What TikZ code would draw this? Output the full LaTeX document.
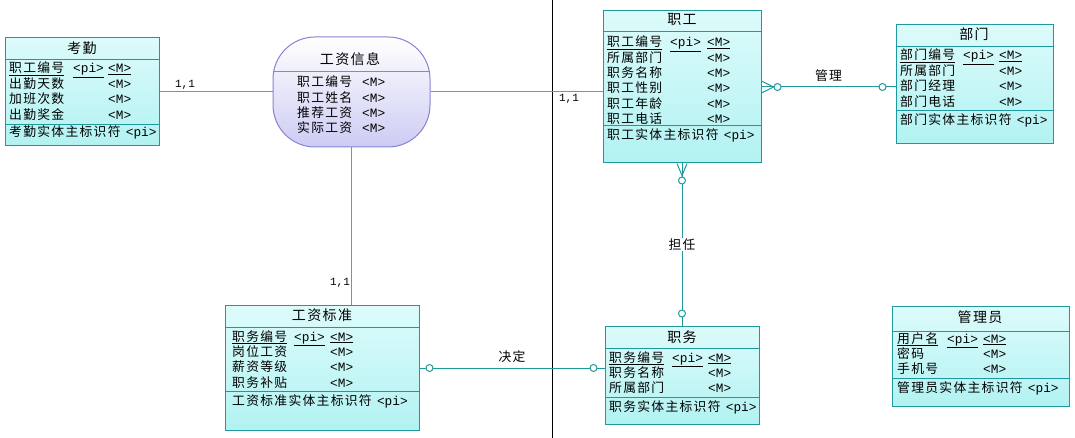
\documentclass[tikz,border=0pt]{standalone}
\usepackage{fontspec}
\setmainfont{Noto Sans CJK SC}[LetterSpace=10]
\setmonofont{Liberation Mono}
\usepackage{xcolor}
\definecolor{entteal}{HTML}{1E9A9E}
\definecolor{entlight}{HTML}{DDFBFB}
\definecolor{entdark}{HTML}{B2F2F2}
\definecolor{assocline}{HTML}{8A82D6}
\definecolor{assoclight}{HTML}{CCCCF4}
\newcommand{\pikey}{\texttt{<pi>}}
\newcommand{\mkey}{\texttt{<M>}}

\begin{document}
\begin{tikzpicture}[x=1pt, y=-1pt,
    ent/.style={rectangle, draw=entteal, line width=1pt, top color=entlight, bottom color=entdark, inner sep=0pt},
    assoc/.style={rectangle, rounded corners=42pt, draw=assocline, line width=1pt, top color=white, bottom color=assoclight, inner sep=0pt},
    sep/.style={entteal, line width=1pt},
    ttl/.style={anchor=base, inner sep=0pt, font=\fontsize{14}{16}\selectfont},
    attr/.style={anchor=base west, inner sep=0pt, font=\fontsize{12.8}{15}\selectfont},
    rel/.style={draw=entteal, line width=1pt},
    link/.style={draw=assocline, line width=1pt},
    ring/.style={draw=entteal, line width=1pt, fill=white},
    card/.style={inner sep=0pt, font=\ttfamily\fontsize{11}{12}\selectfont},
    lbl/.style={inner sep=1pt, font=\fontsize{12.8}{15}\selectfont},
  ]
  \path[use as bounding box, fill=white] (0,0) rectangle (1075,438);

  % divider
  \coordinate (divtop) at (552,0);
  \coordinate (divbot) at (552,438);
  \draw[line width=1pt] (divtop) -- (divbot);

  % entities
  \node[ent, minimum width=154pt, minimum height=108pt] (kq) at (82,92) {};
  \node[ent, minimum width=158pt, minimum height=152pt] (zg) at (682,87) {};
  \node[ent, minimum width=157pt, minimum height=119pt] (bm) at (974.5,84.5) {};
  \node[ent, minimum width=194pt, minimum height=125pt] (gzbz) at (322,368) {};
  \node[ent, minimum width=154pt, minimum height=98pt] (zw) at (682,375) {};
  \node[ent, minimum width=177pt, minimum height=100pt] (gly) at (980.5,356) {};
  \node[assoc, minimum width=157pt, minimum height=110pt] (gzxx) at (351.5,92) {};

  \draw[sep] (5,60) -- (159,60) (5,125) -- (159,125);
  \draw[sep] (603,32) -- (761,32) (603,126) -- (761,126);
  \draw[sep] (896,47) -- (1053,47) (896,111) -- (1053,111);
  \draw[sep] (225,327) -- (419,327) (225,391) -- (419,391);
  \draw[sep] (605,348) -- (759,348) (605,397) -- (759,397);
  \draw[sep] (892,331) -- (1069,331) (892,378) -- (1069,378);
  \draw[link] (273.5,72) -- (429.5,72);

  % titles
  \node[ttl] (kqt) at (82,54) {考勤};
  \node[ttl] (zgt) at (682,25) {职工};
  \node[ttl] (bmt) at (974,40) {部门};
  \node[ttl] (gzbzt) at (322,320) {工资标准};
  \node[ttl] (zwt) at (682,342) {职务};
  \node[ttl] (glyt) at (980,322) {管理员};
  \node[ttl] (gzxxt) at (350,65) {工资信息};

  % attributes
  \node[attr] (kqa) at (9,73) {\begin{tabular}[t]{@{}p{64pt}@{}p{35pt}@{}l@{}}
    \underline{职工编号} & \underline{\pikey} & \underline{\mkey}\\
    出勤天数 & & \mkey\\
    加班次数 & & \mkey\\
    出勤奖金 & & \mkey
  \end{tabular}};
  \node[attr] (zga) at (607,47) {\begin{tabular}[t]{@{}p{63pt}@{}p{37pt}@{}l@{}}
    \underline{职工编号} & \underline{\pikey} & \underline{\mkey}\\
    所属部门 & & \mkey\\
    职务名称 & & \mkey\\
    职工性别 & & \mkey\\
    职工年龄 & & \mkey\\
    职工电话 & & \mkey
  \end{tabular}};
  \node[attr] (bma) at (900,60) {\begin{tabular}[t]{@{}p{63pt}@{}p{36pt}@{}l@{}}
    \underline{部门编号} & \underline{\pikey} & \underline{\mkey}\\
    所属部门 & & \mkey\\
    部门经理 & & \mkey\\
    部门电话 & & \mkey
  \end{tabular}};
  \node[attr] (gzbza) at (232,341) {\begin{tabular}[t]{@{}p{62pt}@{}p{36pt}@{}l@{}}
    \underline{职务编号} & \underline{\pikey} & \underline{\mkey}\\
    岗位工资 & & \mkey\\
    薪资等级 & & \mkey\\
    职务补贴 & & \mkey
  \end{tabular}};
  \node[attr] (zwa) at (609,362) {\begin{tabular}[t]{@{}p{63pt}@{}p{36pt}@{}l@{}}
    \underline{职务编号} & \underline{\pikey} & \underline{\mkey}\\
    职务名称 & & \mkey\\
    所属部门 & & \mkey
  \end{tabular}};
  \node[attr] (glya) at (897,343) {\begin{tabular}[t]{@{}p{50pt}@{}p{36pt}@{}l@{}}
    \underline{用户名} & \underline{\pikey} & \underline{\mkey}\\
    密码 & & \mkey\\
    手机号 & & \mkey
  \end{tabular}};
  \node[attr] (gzxxa) at (297,87) {\begin{tabular}[t]{@{}p{65pt}@{}l@{}}
    职工编号 & \mkey\\
    职工姓名 & \mkey\\
    推荐工资 & \mkey\\
    实际工资 & \mkey
  \end{tabular}};

  % identifiers
  \node[attr] (kqi) at (9,137) {考勤实体主标识符\hspace{4pt}\pikey};
  \node[attr] (zgi) at (607,140) {职工实体主标识符\hspace{4pt}\pikey};
  \node[attr] (bmi) at (900,125) {部门实体主标识符\hspace{4pt}\pikey};
  \node[attr] (gzbzi) at (232,405) {工资标准实体主标识符\hspace{4pt}\pikey};
  \node[attr] (zwi) at (609,411) {职务实体主标识符\hspace{4pt}\pikey};
  \node[attr] (glyi) at (897,392) {管理员实体主标识符\hspace{4pt}\pikey};

  % association links
  \draw[link] (kq.east) -- (gzxx.west);
  \draw[link] (gzxx.east) -- (gzxx.east -| zg.west);
  \draw[link] (gzxx.south) -- (gzxx.south |- gzbz.north);
  \node[card] (c1) at (185,85) {1,1};
  \node[card] (c2) at (569,99) {1,1};
  \node[card] (c3) at (340,283) {1,1};

  % relationships
  \coordinate (gl) at (zg.east -| bm.west);
  \draw[rel] (zg.east) -- node[lbl, above=4pt] (lgl) {管理} (gl);
  \draw[rel] ([yshift=6pt]zg.east) -- ([xshift=12pt]zg.east) -- ([yshift=-6pt]zg.east);
  \draw[ring] ([xshift=16pt]zg.east) circle (3.5pt);
  \draw[ring] ([xshift=-13pt]gl) circle (3.5pt);

  \draw[rel] (zg.south) -- node[lbl, fill=white] (ldr) {担任} (zw.north);
  \draw[rel] ([xshift=-5pt]zg.south) -- ([yshift=-12pt]zg.south) -- ([xshift=5pt]zg.south);
  \draw[ring] ([yshift=-17pt]zg.south) circle (3.5pt);
  \draw[ring] ([yshift=12pt]zw.north) circle (3.5pt);

  \coordinate (jd) at (gzbz.east -| zw.west);
  \draw[rel] (gzbz.east) -- node[lbl, above=4pt] (ljd) {决定} (jd);
  \draw[ring] ([xshift=10pt]gzbz.east) circle (3.5pt);
  \draw[ring] ([xshift=-11pt]jd) circle (3.5pt);
\end{tikzpicture}
\end{document}
